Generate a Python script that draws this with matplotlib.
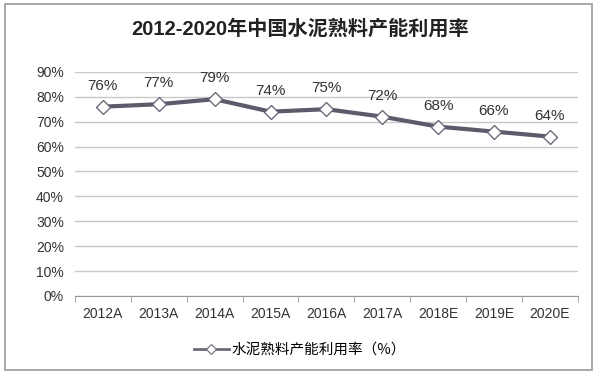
import matplotlib.pyplot as plt
from matplotlib.patches import Rectangle
from matplotlib.lines import Line2D

years = ['2012A', '2013A', '2014A', '2015A', '2016A', '2017A', '2018E', '2019E', '2020E']
rates = [76, 77, 79, 74, 75, 72, 68, 66, 64]
yticks = [0, 10, 20, 30, 40, 50, 60, 70, 80, 90]

plt.rcParams['font.family'] = ['Liberation Sans', 'Noto Sans CJK SC', 'DejaVu Sans']

fig = plt.figure(figsize=(6, 3.78), dpi=100)
fig.patches.append(Rectangle((0.008, 0.02), 0.978, 0.97, transform=fig.transFigure,
                             fill=False, edgecolor='#9a9a9a', linewidth=1.2))
ax = fig.add_axes([0.125, 0.217, 0.838, 0.593])

x = list(range(len(years)))
ax.plot(x, rates, color='#5b5b6b', linewidth=3, marker='D', markersize=7,
        markerfacecolor='white', markeredgecolor='#6b6b7b', markeredgewidth=1, zorder=3)
for xi, v in zip(x, rates):
    ax.annotate(f'{v}%', (xi, v), xytext=(0, 10), textcoords='offset points',
                ha='center', va='bottom', fontsize=11, color='#333333')

ax.set_xlim(-0.5, len(years) - 0.5)
ax.set_ylim(0, 90)
ax.set_yticks(yticks)
ax.set_yticklabels([f'{t}%' for t in yticks])
ax.set_xticks(x)
ax.set_xticklabels(years)
ax.set_xticks([i - 0.5 for i in range(len(years) + 1)], minor=True)
ax.tick_params(axis='x', which='major', length=0, pad=8, labelsize=10, labelcolor='#333333')
ax.tick_params(axis='x', which='minor', length=4, color='#999999', direction='out')
ax.tick_params(axis='y', length=0, pad=8, labelsize=10, labelcolor='#333333')
ax.grid(axis='y', color='#c8c8c8', linewidth=1)
ax.set_axisbelow(True)
for s in ['top', 'right', 'left']:
    ax.spines[s].set_visible(False)
ax.spines['bottom'].set_color('#999999')

fig.text(0.5, 0.925, '2012-2020年中国水泥熟料产能利用率', ha='center', va='center',
         fontsize=14.5, fontweight='bold', color='#222222',
         family=['Liberation Sans', 'Noto Sans CJK SC'])
handle = Line2D([], [], color='#6b6b7b', linewidth=2, marker='D', markersize=5,
                markerfacecolor='white', markeredgecolor='#6b6b7b', markeredgewidth=0.8)
fig.legend(handles=[handle], labels=['水泥熟料产能利用率（%）'], loc='center',
           bbox_to_anchor=(0.5, 0.075), frameon=False, handlelength=2.4, handletextpad=0.2,
           prop={'family': ['Noto Sans CJK SC'], 'size': 10.5})

fig.savefig('out.png', dpi=100)
